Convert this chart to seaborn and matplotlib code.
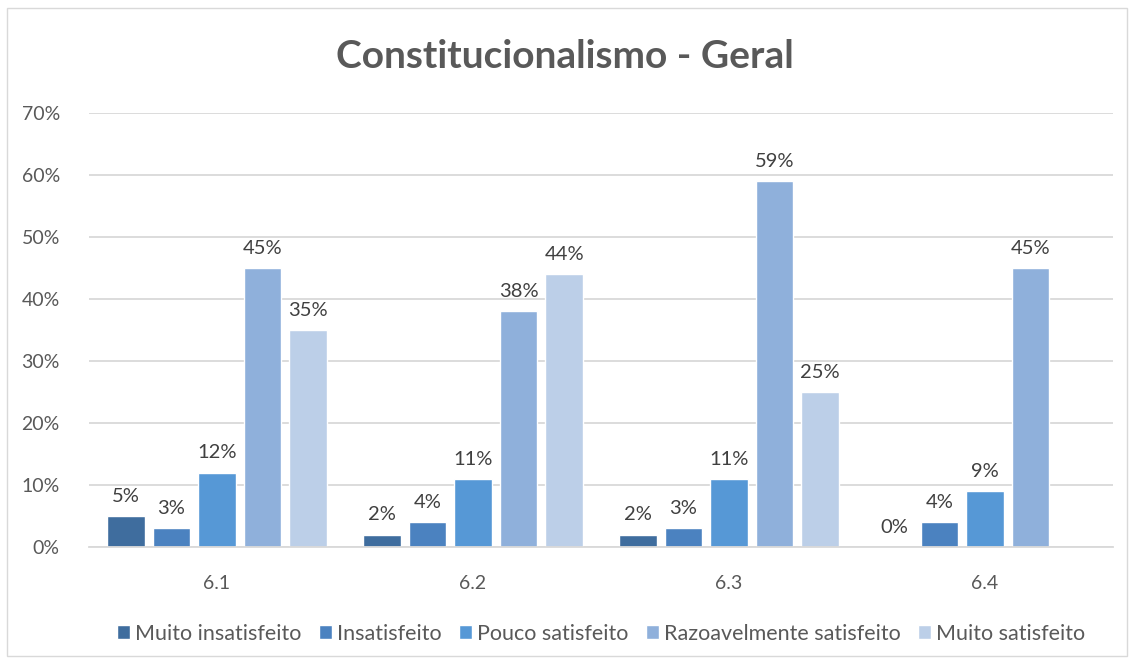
import numpy as np
import pandas as pd
import seaborn as sns
import matplotlib.pyplot as plt
from matplotlib.patches import Rectangle
from matplotlib.ticker import FuncFormatter

# values (percent)
questions = ["6.1", "6.2", "6.3", "6.4"]
levels = ["Muito insatisfeito", "Insatisfeito", "Pouco satisfeito",
          "Razoavelmente satisfeito", "Muito satisfeito"]
muito_insatisfeito = [5, 2, 2, 0]
insatisfeito = [3, 4, 3, 4]
pouco_satisfeito = [12, 11, 11, 9]
razoavelmente_satisfeito = [45, 38, 59, 45]
muito_satisfeito = [35, 44, 25, np.nan]

colors = ["#3f6d9e", "#4b82c0", "#5698d6", "#8fb0db", "#bccfe8"]

series = [muito_insatisfeito, insatisfeito, pouco_satisfeito,
          razoavelmente_satisfeito, muito_satisfeito]
rows = []
for lvl, vals in zip(levels, series):
    for q, v in zip(questions, vals):
        rows.append({"questao": q, "nivel": lvl, "pct": v})
df = pd.DataFrame(rows)

sns.set_style("white")
plt.rcParams["font.family"] = ["Lato", "DejaVu Sans"]
text_col = "#595959"

fig = plt.figure(figsize=(11.34, 6.64), dpi=100)
ax = fig.add_axes([0.0785, 0.1762, 0.903, 0.6536])

sns.barplot(data=df, x="questao", y="pct", hue="nivel", hue_order=levels,
            order=questions, palette=colors, width=0.89, gap=0.17,
            saturation=1, ax=ax, legend=True)

for cont in ax.containers:
    vals = cont.datavalues
    labels = ["" if np.isnan(v) else f"{v:.0f}%" for v in vals]
    ax.bar_label(cont, labels=labels, padding=8, fontsize=14.5, color="#404040")

ax.set_ylim(0, 70)
ax.set_xlim(-0.5, 3.5)
ax.set_yticks(range(0, 71, 10))
ax.yaxis.set_major_formatter(FuncFormatter(lambda v, p: f"{v:.0f}%"))
ax.grid(axis="y", color="#d9d9d9", linewidth=1.3)
ax.set_axisbelow(True)
for s in ["top", "right", "left"]:
    ax.spines[s].set_visible(False)
ax.spines["bottom"].set_color("#d9d9d9")
ax.spines["bottom"].set_linewidth(1.3)
ax.tick_params(axis="both", length=0, labelsize=14, colors=text_col)
ax.tick_params(axis="y", pad=21)
ax.tick_params(axis="x", pad=20)
ax.set_xlabel("")
ax.set_ylabel("")

fig.text(0.498, 0.915, "Constitucionalismo - Geral", ha="center", va="center",
         fontsize=28, fontweight="bold", color=text_col)

ax.legend(loc="center", bbox_to_anchor=(0.5, -0.2), ncol=5, frameon=False,
          fontsize=15.5, handlelength=0.6, handleheight=0.6, handletextpad=0.25,
          columnspacing=0.8, labelcolor=text_col)

fig.patches.append(Rectangle((0.006, 0.012), 0.988, 0.976, transform=fig.transFigure,
                             fill=False, edgecolor="#d9d9d9", linewidth=1))

fig.savefig("out.png", dpi=100)
